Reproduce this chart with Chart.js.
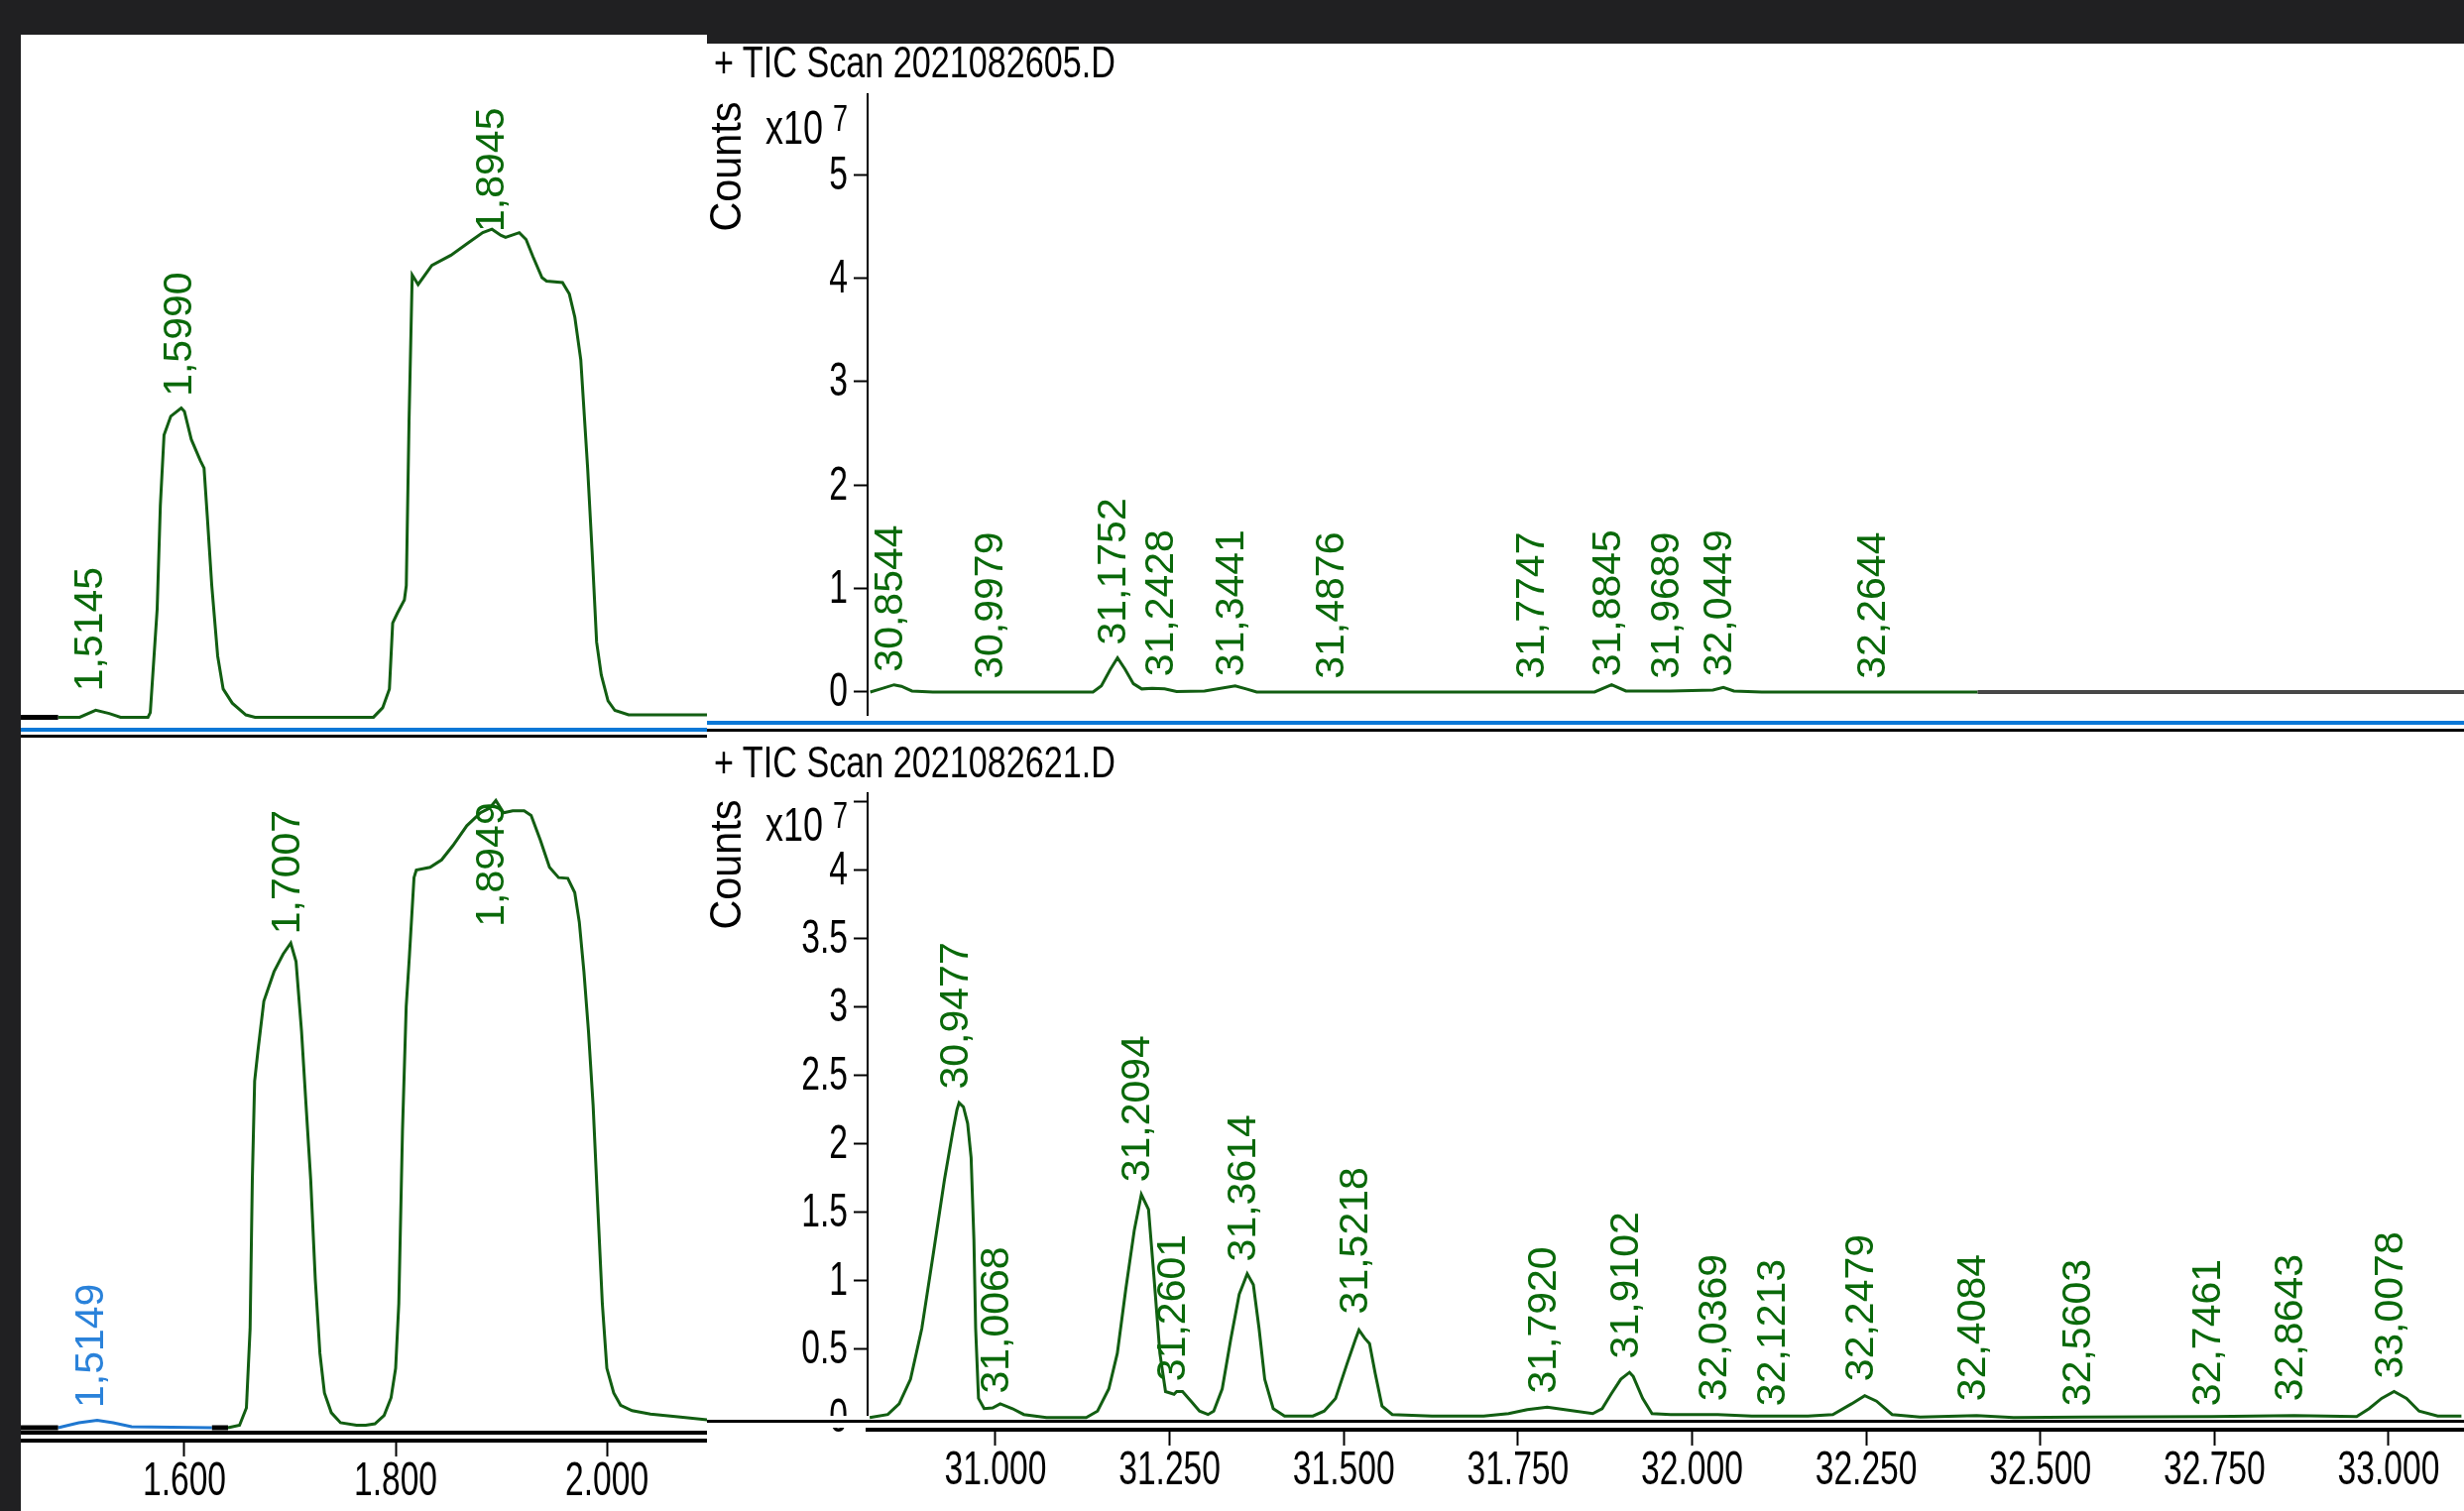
<!DOCTYPE html>
<html><head><meta charset="utf-8">
<script src="https://cdn.jsdelivr.net/npm/chart.js@4.4.1/dist/chart.umd.min.js"></script>
<style>
html,body{margin:0;padding:0;}
body{width:2485px;height:1524px;background:#202022;position:relative;overflow:hidden;font-family:'Liberation Sans',Arial,sans-serif;}
.panel{position:absolute;background:#fff;}
canvas{position:absolute;display:block;}
.bar{position:absolute;}
.txt{position:absolute;white-space:nowrap;line-height:1;color:#000;}
</style></head><body>
<div class="panel" style="left:21px;top:35px;width:692px;height:1489px"></div>
<div class="panel" style="left:713px;top:44px;width:1772px;height:1480px"></div>
<canvas id="cA" width="692" height="710" style="left:21px;top:35px"></canvas>
<canvas id="cB" width="692" height="779" style="left:21px;top:745px"></canvas>
<canvas id="cC" width="1772" height="678" style="left:713px;top:44px"></canvas>
<canvas id="cD" width="1772" height="779" style="left:713px;top:745px"></canvas>
<div class="bar" style="left:21px;top:734px;width:692px;height:4px;background:#0a78d7"></div>
<div class="bar" style="left:21px;top:741px;width:692px;height:3px;background:#000"></div>
<div class="bar" style="left:713px;top:727px;width:1772px;height:4px;background:#0a78d7"></div>
<div class="bar" style="left:713px;top:735px;width:1772px;height:3px;background:#000"></div>
<div class="bar" style="left:713px;top:1428px;width:164px;height:12px;background:#fff"></div>
<div class="bar" style="left:713px;top:1432px;width:1772px;height:3px;background:#000"></div>
<div class="bar" style="left:21px;top:1443px;width:692px;height:4px;background:#000"></div>
<script>
// ---------------- DATA ----------------
// Top-left window (2021082605.D, 1.44-2.10 min), relative counts
const topLeftTimes  = [1.4804,1.5008,1.5160,1.5288,1.5396,1.5655,1.5677,1.5742,1.5772,1.5807,1.5871,1.5970,1.6000,1.6065,1.6151,1.6186,1.6216,1.6259,1.6315,1.6367,1.6453,1.6582,1.6669,1.7790,1.7877,1.7941,1.7972,1.8015,1.8083,1.8101,1.8127,1.8157,1.8213,1.8343,1.8524,1.8696,1.8825,1.8912,1.8998,1.9041,1.9171,1.9235,1.9300,1.9386,1.9429,1.9580,1.9645,1.9697,1.9753,1.9818,1.9861,1.9903,1.9947,2.0011,2.0076,2.0206,2.0948];
const topLeftCounts = [0,0,1.03,0.55,0,0,0.69,15.85,31.0,41.35,44.1,45.3,44.8,40.7,37.6,36.5,29.6,19.3,8.96,4.14,2.07,0.34,0,0,1.38,4.14,13.8,15.2,17.2,19.3,43.4,64.8,63.4,66.2,67.7,69.6,71.0,71.5,70.6,70.3,71.0,70.0,67.5,64.4,63.9,63.7,62.0,58.6,52.4,36.5,24.1,11.0,6.2,2.4,1.0,0.34,0.34];
const topLeftBlackTimes = [1.4451,1.4804];
const topLeftBlackCounts = [0,0];
const topLeftPeakTimes  = [1.5145,1.5990,1.8945];
const topLeftPeakLevels = [3.8,47.0,71.1];

// Bottom-left window (2021082621.D)
const botLeftTimes  = [1.6413,1.6522,1.6587,1.6622,1.6643,1.6665,1.6696,1.6752,1.6848,1.6935,1.7007,1.7057,1.7109,1.7152,1.7196,1.7239,1.7283,1.7326,1.7391,1.7478,1.7630,1.7717,1.7804,1.7891,1.7957,1.8000,1.8030,1.8065,1.8100,1.8130,1.8174,1.8196,1.8326,1.8435,1.8543,1.8674,1.8804,1.8891,1.8949,1.9022,1.9109,1.9217,1.9283,1.9370,1.9457,1.9543,1.9630,1.9696,1.9739,1.9783,1.9826,1.9870,1.9913,1.9957,2.0000,2.0065,2.0130,2.0239,2.0413,2.0674,2.0987];
const botLeftCounts = [0,0.36,2.9,14.5,36.3,50.8,55.2,62.5,66.8,69.4,71.0,68.3,58.1,47.2,36.3,21.8,10.9,5.1,2.2,0.73,0.36,0.36,0.58,1.8,4.4,8.7,18.2,43.6,61.7,69.0,80.6,81.7,82.1,83.2,85.3,88.2,90.1,90.8,91.9,90.1,90.4,90.4,89.7,86.1,82.1,80.6,80.5,78.4,74.1,66.8,58.1,47.2,32.7,18.2,8.7,5.1,3.3,2.5,2.0,1.6,1.1];
const botLeftBlueTimes  = [1.4804,1.5000,1.5174,1.5326,1.5500,1.6261];
const botLeftBlueCounts = [0,0.73,1.09,0.73,0.15,0];
const botLeftBlackTimes  = [1.4451,1.4804,1.5500,1.6261,1.6413];
const botLeftBlackCounts = [0,0,null,0,0];
const botLeftPeakTimes  = [1.7007,1.8949];
const botLeftPeakLevels = [72.3,73.4];
const botLeftBluePeakTimes  = [1.5149];
const botLeftBluePeakLevels = [2.9];
const leftXTicks = [1.6,1.8,2.0];
const leftXTickLabels = ['1.600','1.800','2.000'];

// Top-right: + TIC Scan 2021082605.D  (counts x10^7)
const topRightTimes  = [30.8202,30.8350,30.8544,30.8650,30.8800,30.9100,31.1400,31.1520,31.1650,31.1752,31.1860,31.1980,31.2100,31.2250,31.2428,31.2600,31.3000,31.3441,31.3600,31.3750,31.8600,31.8845,31.9050,31.9689,32.0300,32.0449,32.0600,32.1000,32.4100];
const topRightCounts = [0,0.03,0.07,0.055,0.01,0,0,0.06,0.22,0.33,0.22,0.08,0.03,0.035,0.03,0.005,0.01,0.06,0.03,0,0,0.07,0.01,0.01,0.02,0.045,0.01,0,0];
const topRightTailTimes  = [32.4100,33.1082];
const topRightTailCounts = [0,0];
const topRightPeakTimes  = [30.8544,30.9979,31.1752,31.2428,31.3441,31.4876,31.7747,31.8845,31.9689,32.0449,32.2644];
const topRightPeakLevels = [0.195,0.127,0.455,0.15,0.15,0.127,0.127,0.15,0.127,0.15,0.127];
const topRightYTicks = [0,1,2,3,4,5];
const topRightYTickLabels = ['0','1','2','3','4','5'];

// Bottom-right: + TIC Scan 2021082621.D  (counts x10^7)
const botRightTimes  = [30.8194,30.8454,30.8617,30.8780,30.8942,30.9105,30.9268,30.9390,30.9447,30.9477,30.9540,30.9600,30.9650,30.9690,30.9715,30.9756,30.9837,30.9959,31.0068,31.0244,31.0407,31.0732,31.1302,31.1465,31.1627,31.1749,31.1871,31.1993,31.2094,31.2197,31.2278,31.2360,31.2441,31.2563,31.2601,31.2685,31.2807,31.2929,31.3051,31.3133,31.3255,31.3377,31.3499,31.3614,31.3702,31.3784,31.3865,31.3987,31.4150,31.4557,31.4719,31.4882,31.5045,31.5167,31.5218,31.5300,31.5370,31.5452,31.5549,31.5696,31.6265,31.7008,31.7366,31.7634,31.7920,31.8171,31.8574,31.8709,31.8843,31.8977,31.9102,31.9156,31.9290,31.9425,31.9693,32.0369,32.0857,32.1213,32.1663,32.2021,32.2290,32.2479,32.2648,32.2872,32.3274,32.4084,32.4617,32.5603,32.7461,32.8643,32.9541,32.9720,32.9899,33.0078,33.0257,33.0437,33.0705,33.1045];
const botRightCounts = [0,0.022,0.10,0.28,0.65,1.19,1.74,2.10,2.25,2.30,2.27,2.15,1.90,1.30,0.65,0.14,0.065,0.07,0.10,0.065,0.022,0,0,0.047,0.21,0.47,0.94,1.37,1.63,1.52,1.01,0.47,0.19,0.17,0.19,0.19,0.12,0.047,0.022,0.047,0.21,0.57,0.90,1.05,0.97,0.65,0.28,0.065,0.011,0.011,0.047,0.14,0.39,0.57,0.64,0.58,0.54,0.32,0.084,0.022,0.011,0.011,0.029,0.058,0.076,0.058,0.029,0.065,0.175,0.28,0.33,0.30,0.14,0.029,0.022,0.022,0.011,0.011,0.011,0.022,0.10,0.16,0.12,0.022,0.004,0.015,0,0.004,0.007,0.015,0.007,0.065,0.14,0.19,0.14,0.047,0.011,0.011];
const botRightPeakTimes  = [30.9477,31.0068,31.2094,31.2601,31.3614,31.5218,31.7920,31.9102,32.0369,32.1213,32.2479,32.4084,32.5603,32.7461,32.8643,33.0078];
const botRightPeakLevels = [2.40,0.175,1.72,0.265,1.14,0.756,0.175,0.43,0.12,0.084,0.265,0.12,0.084,0.084,0.12,0.284];
const botRightYTicks = [0,0.5,1,1.5,2,2.5,3,3.5,4,4.5];
const botRightYTickLabels = ['0','0.5','1','1.5','2','2.5','3','3.5','4',''];
const rightXTicks = [31.0,31.25,31.5,31.75,32.0,32.25,32.5,32.75,33.0];
const rightXTickLabels = ['31.000','31.250','31.500','31.750','32.000','32.250','32.500','32.750','33.000'];

const titleTop = '+ TIC Scan 2021082605.D';
const titleBottom = '+ TIC Scan 2021082621.D';
const yAxisTitle = 'Counts';
const yAxisExp = ['x10','7'];

// ---------------- STYLE ----------------
const GREEN = '#125e12', LABEL_GREEN = '#0a690a', BLUE = '#1f77d0', LABEL_BLUE = '#2a82da';
const LABEL_FONT = "41px 'Liberation Sans', Arial, sans-serif";
const TICK_FONT = "48px 'Liberation Sans', Arial, sans-serif";
const TICK_SQUEEZE = 0.70;

const pts = (ts, vs) => ts.map((t,i)=>({x:t, y:vs[i]}));
const line = (ts, vs, color, w) => ({data: pts(ts, vs), borderColor: color, borderWidth: w||3, pointRadius: 0, tension: 0, fill: false, spanGaps: false});

const peakLabels = {
  id: 'peakLabels',
  afterDatasetsDraw(chart, args, opts) {
    const ctx = chart.ctx, xs = chart.scales.x, ys = chart.scales.y;
    (opts.groups || []).forEach(g => {
      g.times.forEach((t, i) => {
        const px = xs.getPixelForValue(t) + (opts.dx || 0);
        const py = ys.getPixelForValue(g.levels[i]);
        ctx.save();
        ctx.fillStyle = g.color; ctx.font = LABEL_FONT;
        ctx.textAlign = 'left'; ctx.textBaseline = 'middle';
        ctx.translate(px, py); ctx.rotate(-Math.PI / 2);
        ctx.fillText(t.toFixed(4).replace('.', ','), 0, 0);
        ctx.restore();
      });
    });
  }
};

// Tick labels: positions from the library's own scale ticks, drawn horizontally condensed
const condensedTicks = {
  id: 'condensedTicks',
  afterDraw(chart) {
    const ctx = chart.ctx, K = TICK_SQUEEZE;
    Object.values(chart.scales).forEach(s => {
      if (!s.options.display) return;
      s.ticks.forEach(t => {
        if (!t.label) return;
        const p = s.getPixelForValue(t.value);
        let x, y;
        ctx.save();
        ctx.font = TICK_FONT; ctx.fillStyle = '#000'; ctx.textBaseline = 'alphabetic';
        if (s.isHorizontal()) { x = p; y = s.top + 55; ctx.textAlign = 'center'; }
        else { x = s.right - 20; y = p + 14.5; ctx.textAlign = 'right'; }
        ctx.scale(K, 1);
        ctx.fillText(t.label, x / K, y);
        ctx.restore();
      });
    });
  }
};

function zeroPad(s){ s.paddingTop = 0; s.paddingBottom = 0; s.paddingLeft = 0; s.paddingRight = 0; }
const tickFont = {family: "'Liberation Sans', Arial, sans-serif", size: 48, lineHeight: 1};

function yAxis(min, max, ticks, labels) {
  return {
    type: 'linear', min, max, bounds: 'data',
    afterFit(s){ s.width = 162; zeroPad(s); },
    afterBuildTicks(s){ s.ticks = ticks.map(v => ({value: v})); },
    ticks: {callback: (v, i) => labels[i], font: tickFont, color: 'rgba(0,0,0,0)', padding: 6, autoSkip: false},
    grid: {drawOnChartArea: false, drawTicks: true, tickLength: 14, tickWidth: 2, tickColor: '#000'},
    border: {display: true, color: '#000', width: 2}
  };
}
function xAxis(min, max, ticks, labels, h) {
  return {
    type: 'linear', min, max, bounds: 'data', position: 'bottom',
    afterFit(s){ s.height = h; zeroPad(s); },
    afterBuildTicks(s){ s.ticks = ticks.map(v => ({value: v})); },
    ticks: {callback: (v, i) => labels[i], font: tickFont, color: 'rgba(0,0,0,0)', padding: 0, autoSkip: false, maxRotation: 0, minRotation: 0},
    grid: {drawOnChartArea: false, drawTicks: true, tickLength: 16, tickWidth: 2, tickColor: '#000'},
    border: {display: true, color: '#000', width: 4}
  };
}
function hidden(min, max){ return {type: 'linear', min, max, bounds: 'data', display: false}; }

function make(id, datasets, scales, padding, groups) {
  return new Chart(document.getElementById(id), {
    type: 'line',
    data: {datasets},
    options: {
      responsive: false, animation: false, devicePixelRatio: 1,
      layout: {padding},
      scales,
      plugins: {legend: {display: false}, tooltip: {enabled: false}, peakLabels: {groups, dx: -3}}
    },
    plugins: [peakLabels, condensedTicks]
  });
}

const RX = [30.8164, 33.1082], LX = [1.4451, 2.0948];

make('cA',
  [line(topLeftBlackTimes, topLeftBlackCounts, '#000', 5), line(topLeftTimes, topLeftCounts, GREEN)],
  {x: hidden(LX[0], LX[1]), y: hidden(-3.14, 100.0)},
  0,
  [{times: topLeftPeakTimes, levels: topLeftPeakLevels, color: LABEL_GREEN}]);

make('cB',
  [line(botLeftBlackTimes, botLeftBlackCounts, '#000', 5), line(botLeftBlueTimes, botLeftBlueCounts, BLUE), line(botLeftTimes, botLeftCounts, GREEN)],
  {x: xAxis(LX[0], LX[1], leftXTicks, leftXTickLabels, 71), y: hidden(-1.89, 100.96)},
  0,
  [{times: botLeftPeakTimes, levels: botLeftPeakLevels, color: LABEL_GREEN},
   {times: botLeftBluePeakTimes, levels: botLeftBluePeakLevels, color: LABEL_BLUE}]);

make('cC',
  [line(topRightTailTimes, topRightTailCounts, '#474747', 4), line(topRightTimes, topRightCounts, GREEN)],
  {x: hidden(RX[0], RX[1]), y: yAxis(-0.23, 5.776, topRightYTicks, topRightYTickLabels)},
  {top: 51, left: 0, right: 0, bottom: 0},
  [{times: topRightPeakTimes, levels: topRightPeakLevels, color: LABEL_GREEN}]);

make('cD',
  [line(botRightTimes, botRightCounts, GREEN)],
  {x: xAxis(RX[0], RX[1], rightXTicks, rightXTickLabels, 82), y: yAxis(-0.089, 4.563, botRightYTicks, botRightYTickLabels)},
  {top: 55, left: 0, right: 0, bottom: 0},
  [{times: botRightPeakTimes, levels: botRightPeakLevels, color: LABEL_GREEN}]);

// ---------------- TEXT OVERLAYS ----------------
function addText(txt, left, baseline, size, targetW) {
  const el = document.createElement('div');
  el.className = 'txt'; el.textContent = txt; el.style.fontSize = size + 'px';
  document.body.appendChild(el);
  const w = el.getBoundingClientRect().width;
  el.style.left = left + 'px';
  el.style.top = (baseline - 0.8465 * size) + 'px';
  el.style.transformOrigin = 'left top';
  el.style.transform = 'scaleX(' + (targetW / w) + ')';
}
function addVText(txt, cx, cy, size, targetL) {
  const el = document.createElement('div');
  el.className = 'txt'; el.textContent = txt; el.style.fontSize = size + 'px';
  document.body.appendChild(el);
  const r = el.getBoundingClientRect();
  el.style.left = (cx - r.width / 2) + 'px';
  el.style.top = (cy - size / 2) + 'px';
  el.style.transformOrigin = 'center center';
  el.style.transform = 'rotate(-90deg) scaleX(' + (targetL / r.width) + ')';
}
addText(titleTop, 720, 78, 44, 405);
addText(titleBottom, 720, 784, 44, 405);
addText(yAxisExp[0], 772, 145, 49, 58);
addText(yAxisExp[1], 840, 132, 36, 15);
addText(yAxisExp[0], 772, 848, 49, 58);
addText(yAxisExp[1], 840, 835, 36, 15);
addVText(yAxisTitle, 732, 168, 44, 131);
addVText(yAxisTitle, 732, 872, 44, 131);
</script>
</body></html>
